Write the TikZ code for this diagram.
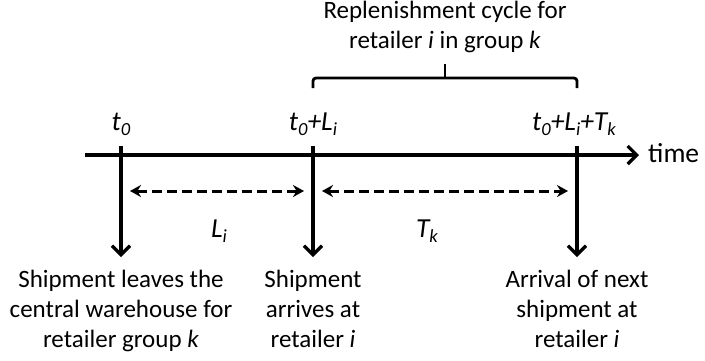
\documentclass[tikz,border=0pt]{standalone}
\usepackage{fontspec}
\setmainfont{Carlito}
\usetikzlibrary{arrows.meta}
\newcommand\sbs[1]{\raisebox{-0.4ex}{\fontsize{18.5}{18.5}\selectfont #1}}
\begin{document}
\begin{tikzpicture}[x=1pt,y=-1pt,
  txt/.style={font=\fontsize{25}{30}\selectfont, align=center, inner sep=0pt},
  lbl/.style={font=\fontsize{27.5}{30}\selectfont\itshape, inner sep=0pt, anchor=base},
  mainline/.style={line width=3.3pt, -{Straight Barb[length=9pt,width=18pt,line width=3.3pt]}},
  dasharrow/.style={line width=3pt, dash pattern=on 10pt off 5pt, {Stealth[length=11pt,width=12pt]}-{Stealth[length=11pt,width=12pt]}},
  brace/.style={line width=2.8pt, rounded corners=3pt}]
\useasboundingbox (0,0) rectangle (705,360);
% axis
\coordinate (axs) at (85,155);
\coordinate (axe) at (639,155);
\draw[mainline] (axs) -- (axe);
\node[font=\fontsize{27.5}{30}\selectfont, inner sep=0pt, anchor=west] (time) at (648,153) {time};
% tick arrows
\coordinate (a0) at (121,146); \coordinate (b0) at (121,257);
\coordinate (a1) at (313,146); \coordinate (b1) at (313,257);
\coordinate (a2) at (577,146); \coordinate (b2) at (577,257);
\draw[mainline] (a0) -- (b0);
\draw[mainline] (a1) -- (b1);
\draw[mainline] (a2) -- (b2);
% top labels
\node[lbl] (l0) at (121,130) {t\sbs{0}};
\node[lbl] (l1) at (313,130) {t\sbs{0}+L\sbs{i}};
\node[lbl] (l2) at (574,130) {t\sbs{0}+L\sbs{i}+T\sbs{k}};
% dashed arrows
\coordinate (d0s) at (130,191); \coordinate (d0e) at (304,191);
\coordinate (d1s) at (322,191); \coordinate (d1e) at (568,191);
\draw[dasharrow] (d0s) -- (d0e);
\draw[dasharrow] (d1s) -- (d1e);
\node[lbl] (Li) at (219,237) {L\sbs{i}};
\node[lbl] (Tk) at (427,237) {T\sbs{k}};
% brace
\coordinate (bl) at (313,88); \coordinate (br) at (577,88);
\coordinate (bm) at (445,78); \coordinate (bt) at (445,64);
\draw[brace] (bl) |- (bm) -| (br);
\draw[line width=2.8pt] (bm) -- (bt);
\node[txt, anchor=north] (cyc) at (445,0.5) {Replenishment cycle for\\retailer \textit{i} in group \textit{k}};
% bottom texts
\node[txt, anchor=north] (e0) at (121,269.5) {Shipment leaves the\\central warehouse for\\retailer group \textit{k}};
\node[txt, anchor=north] (e1) at (313,269.5) {Shipment\\arrives at\\retailer \textit{i}};
\node[txt, anchor=north] (e2) at (577,269.5) {Arrival of next\\shipment at\\retailer \textit{i}};
\end{tikzpicture}
\end{document}
